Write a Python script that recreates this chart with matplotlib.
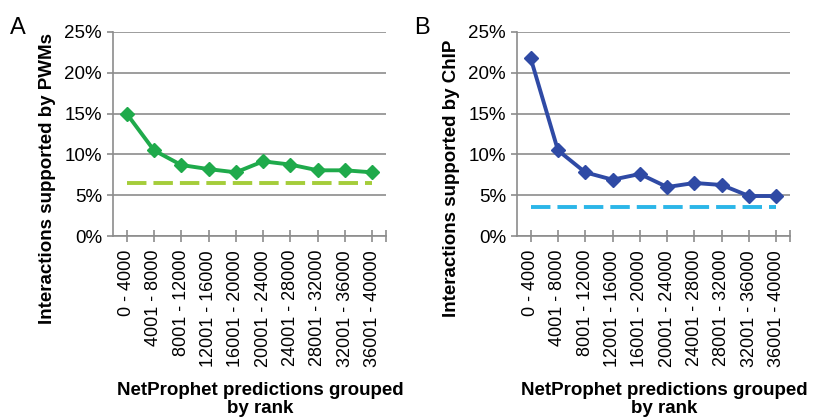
import matplotlib.pyplot as plt
from matplotlib.ticker import PercentFormatter

plt.rcParams['font.family'] = ['Liberation Sans', 'DejaVu Sans']

groups = ['0 - 4000', '4001 - 8000', '8001 - 12000', '12001 - 16000',
          '16001 - 20000', '20001 - 24000', '24001 - 28000', '28001 - 32000',
          '32001 - 36000', '36001 - 40000']
pwm = [15.0, 10.5, 8.7, 8.2, 7.8, 9.15, 8.75, 8.05, 8.05, 7.8]
pwm_base = 6.5
chip = [21.8, 10.5, 7.8, 6.9, 7.6, 6.0, 6.5, 6.25, 4.9, 4.9]
chip_base = 3.5

fig = plt.figure(figsize=(8.15, 4.19), dpi=100)

panels = [
    ('A', [113 / 815, 1 - 236 / 419, 273 / 815, 204 / 419], pwm, pwm_base,
     '#1faa4b', '#a5cd3a', 'Interactions supported by PWMs'),
    ('B', [517 / 815, 1 - 236 / 419, 273 / 815, 204 / 419], chip, chip_base,
     '#2f4aa5', '#2bb6e8', 'Interactions supported by ChIP'),
]

x = list(range(len(groups)))
for letter, rect, vals, base, col, dcol, ylab in panels:
    ax = fig.add_axes(rect)
    ax.plot(x, vals, color=col, lw=2.8, marker='D', ms=7.5, zorder=3)
    ax.plot(x, [base] * len(x), color=dcol, lw=2.8, ls=(0, (5, 1.8)), zorder=2)
    ax.set_xlim(-0.5, 9.5)
    ax.set_ylim(0, 25)
    ax.set_yticks([0, 5, 10, 15, 20, 25])
    ax.yaxis.set_major_formatter(PercentFormatter(decimals=0))
    ax.grid(axis='y', color='#8c8c8c', lw=1.2)
    ax.set_axisbelow(True)
    for s in ['top', 'right']:
        ax.spines[s].set_visible(False)
    for s in ['left', 'bottom']:
        ax.spines[s].set_color('#8c8c8c')
        ax.spines[s].set_linewidth(1.2)
    ax.set_xticks(x)
    ax.set_xticklabels(groups, rotation=90, fontsize=13)
    ax.set_xticks([9.5], minor=True)
    ax.tick_params(axis='x', which='both', direction='inout', length=8,
                   color='#8c8c8c', width=1.2, pad=6)
    ax.tick_params(axis='y', length=4, color='#8c8c8c', width=1.2,
                   labelsize=13.5, pad=4)
    ax.set_ylabel(ylab, fontsize=13.5, fontweight='bold')
    ax.yaxis.set_label_coords(-0.208, 0.284)
    ax.set_xlabel('NetProphet predictions grouped\nby rank', fontsize=13.5,
                  fontweight='bold', linespacing=1.1)
    ax.xaxis.set_label_coords(0.54, -0.715)
    fig.text(rect[0] - 103 / 815, 1 - 34 / 419, letter, fontsize=17)

fig.savefig('out.png', dpi=100)
